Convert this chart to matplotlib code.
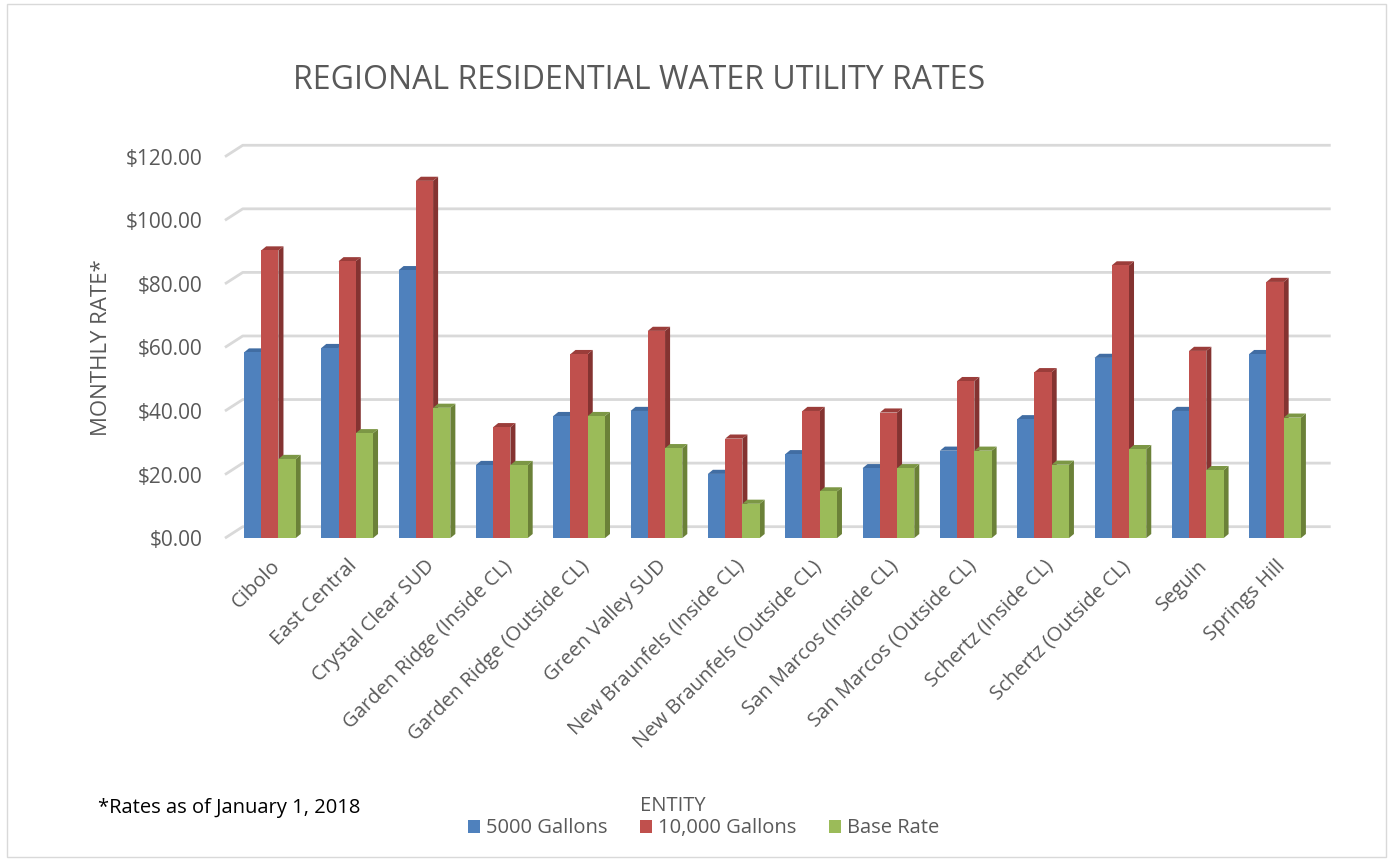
import numpy as np
import matplotlib.pyplot as plt
from matplotlib.patches import Polygon, Rectangle, Patch
from matplotlib.ticker import FuncFormatter

plt.rcParams['font.family'] = ['Open Sans', 'DejaVu Sans']

# Data
entities = ["Cibolo", "East Central", "Crystal Clear SUD", "Garden Ridge (Inside CL)",
            "Garden Ridge (Outside CL)", "Green Valley SUD", "New Braunfels (Inside CL)",
            "New Braunfels (Outside CL)", "San Marcos (Inside CL)", "San Marcos (Outside CL)",
            "Schertz (Inside CL)", "Schertz (Outside CL)", "Seguin", "Springs Hill"]
gal_5000 = [58.4, 59.8, 84.3, 23.0, 38.4, 40.0, 20.2, 26.4, 22.0, 27.5, 37.4, 56.7, 40.0, 57.9]
gal_10000 = [90.5, 87.1, 112.4, 34.9, 57.9, 65.2, 31.3, 40.0, 39.5, 49.4, 52.2, 85.8, 58.9, 80.6]
base_rate = [24.9, 33.0, 41.0, 23.0, 38.4, 28.3, 10.8, 14.7, 22.0, 27.5, 23.1, 28.0, 21.4, 37.9]
series_names = ["5000 Gallons", "10,000 Gallons", "Base Rate"]
y_ticks = [0, 20, 40, 60, 80, 100, 120]

face_colors = ["#4F81BD", "#C0504D", "#9BBB59"]
side_colors = ["#3A6091", "#843331", "#6B8138"]
top_colors = ["#416DA3", "#9B3D3A", "#7C9745"]
text_grey = "#595959"

fig = plt.figure(figsize=(13.93, 8.61), dpi=100)
ax = fig.add_axes([0.1615, 0.375, 0.781, 0.443])

x = np.arange(len(entities))
width = 0.223
dx, dy = 0.065, 1.3      # bar depth
gx, gy = 0.23, 3.6       # back wall offset
xmin, xmax = -0.58, 13.49
ax.set_xlim(xmin, xmax)
ax.set_ylim(0, 120)

# back wall gridlines
for v in y_ticks:
    ax.plot([xmin, xmin + gx, xmax + gx], [v, v + gy, v + gy], color="#D9D9D9",
            lw=2, clip_on=False, zorder=0, solid_capstyle="butt")

all_series = [gal_5000, gal_10000, base_rate]
for i, vals in enumerate(all_series):
    lefts = x - 1.5 * width + i * width
    ax.bar(lefts, vals, width=width, align="edge", color=face_colors[i], zorder=3 + i)
    for l, v in zip(lefts, vals):
        side = Polygon([(l + width, 0), (l + width + dx, dy), (l + width + dx, v + dy), (l + width, v)],
                       closed=True, facecolor=side_colors[i], edgecolor="none", zorder=2 + i)
        top = Polygon([(l, v), (l + dx, v + dy), (l + width + dx, v + dy), (l + width, v)],
                      closed=True, facecolor=top_colors[i], edgecolor="none", zorder=2 + i)
        ax.add_patch(side)
        ax.add_patch(top)

for s in ax.spines.values():
    s.set_visible(False)
ax.set_yticks(y_ticks)
ax.yaxis.set_major_formatter(FuncFormatter(lambda v, p: f"${v:.2f}"))
ax.tick_params(axis="y", length=0, pad=16, labelsize=15, labelcolor=text_grey)
ax.set_xticks(x)
ax.set_xticklabels(entities, rotation=45, ha="right", rotation_mode="anchor")
ax.tick_params(axis="x", length=0, pad=13, labelsize=14.5, labelcolor=text_grey)
ax.set_ylabel("MONTHLY RATE*", fontsize=16, color=text_grey, labelpad=10)

fig.text(0.459, 0.907, "REGIONAL RESIDENTIAL WATER UTILITY RATES", fontsize=23,
         color=text_grey, ha="center", va="center")
fig.text(0.070, 0.062, "*Rates as of January 1, 2018", fontsize=14.5, color="black",
         ha="left", va="center")
fig.text(0.483, 0.064, "ENTITY", fontsize=14.5, color=text_grey, ha="center", va="center")

handles = [Patch(facecolor=c) for c in face_colors]
fig.legend(handles, series_names, loc="center", bbox_to_anchor=(0.505, 0.038), ncol=3,
           frameon=False, fontsize=14.5, handlelength=0.6, handleheight=0.6,
           handletextpad=0.3, columnspacing=1.6, labelcolor=text_grey)

fig.patches.append(Rectangle((0.005, 0.005), 0.99, 0.99, transform=fig.transFigure,
                             fill=False, edgecolor="#D9D9D9", lw=1))

fig.savefig("out.png", dpi=100)
